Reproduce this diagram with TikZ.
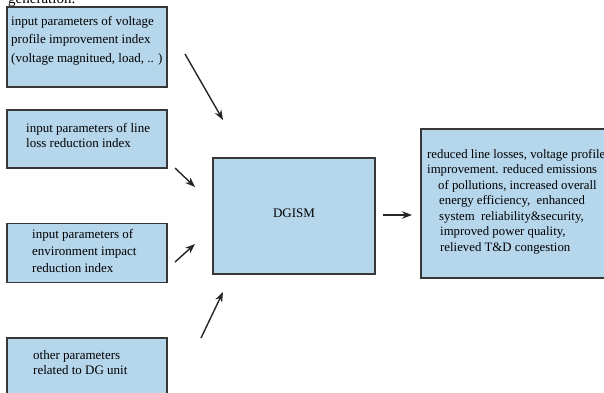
\documentclass[tikz,border=0pt]{standalone}
\usepackage{fontspec}
\setmainfont{Liberation Serif}
\usetikzlibrary{arrows.meta}
\pgfdeclarelayer{bg}
\pgfsetlayers{bg,main}
\definecolor{boxblue}{RGB}{182,214,236}
\definecolor{boxline}{RGB}{55,55,55}

\begin{document}
\begin{tikzpicture}[x=1pt, y=-1pt,
    box/.style={draw=boxline, line width=1.5pt, fill=boxblue, inner sep=0pt},
    txt/.style={anchor=north west, inner sep=0pt, align=left},
    flow/.style={-{Stealth[length=10pt, width=7.5pt]}, line width=1.4pt, draw=black!85}]
    \useasboundingbox (0,0) rectangle (604,392);
    \clip (0,0) rectangle (604,392);

    \node (cut) [anchor=base west, inner sep=0pt, font=\fontsize{15}{15}\selectfont] at (8,3) {generation.};

    \node (in1) [box, minimum width=160pt, minimum height=80pt] at (87,47) {};
    \node (in2) [box, minimum width=160pt, minimum height=58pt] at (87,139) {};
    \node (in3) [box, minimum width=160pt, minimum height=59pt] at (87,253) {};
    \node (in4) [box, minimum width=160pt, minimum height=60pt] at (87,368) {};
    \node (dgism) [box, minimum width=162pt, minimum height=116pt, font=\fontsize{13}{15}\selectfont] at (294,216) {\raisebox{5pt}{DGISM}};
    \node (out) [box, minimum width=200pt, minimum height=149pt] at (521,203.5) {};

    \node (t1) [txt, font=\fontsize{13}{18.5}\selectfont] at (11,16) {input parameters of voltage\\profile improvement index\\(voltage magnitued, load, .. )};
    \node (t2) [txt, font=\fontsize{13}{15}\selectfont] at (26,123) {input parameters of line\\loss reduction index};
    \node (t3) [txt, font=\fontsize{13}{17}\selectfont] at (32,229) {input parameters of\\environment impact\\reduction index};
    \node (t4) [txt, font=\fontsize{13}{15}\selectfont] at (33,350) {other parameters\\related to DG unit};
    \node (t5) [txt, font=\fontsize{12.8}{15.5}\selectfont] at (427,149) {reduced line losses, voltage profile\\improvement. reduced emissions\\\hspace*{11pt}of pollutions, increased overall\\\hspace*{12pt}energy efficiency,\ \ enhanced\\\hspace*{12pt}system\ \ reliability\&security,\\\hspace*{13pt}improved power quality,\\\hspace*{13pt}relieved T\&D congestion};

    \coordinate (s1) at (185,54);
    \coordinate (e1) at (223,120);
    \coordinate (s2) at (175,168);
    \coordinate (e2) at (195,187);
    \coordinate (s3) at (175,262);
    \coordinate (e3) at (195,244);
    \coordinate (s4) at (201,338);
    \coordinate (e4) at (223,292);
    \coordinate (s5) at (383,215);
    \coordinate (e5) at (412,215);

    \begin{pgfonlayer}{bg}
        \draw (s1) edge[flow] (e1);
        \draw (s2) edge[flow] (e2);
        \draw (s3) edge[flow] (e3);
        \draw (s4) edge[flow] (e4);
        \draw (s5) edge[flow] (e5);
    \end{pgfonlayer}
\end{tikzpicture}
\end{document}
